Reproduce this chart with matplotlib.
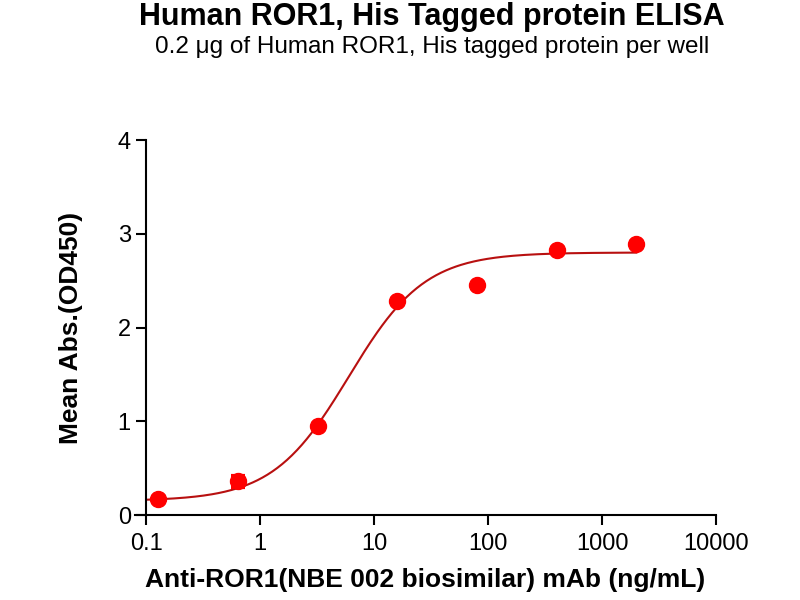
import numpy as np
import matplotlib
matplotlib.use('Agg')
import matplotlib.pyplot as plt

plt.rcParams['font.family'] = ['Liberation Sans', 'DejaVu Sans']

# measured points (ng/mL, OD450)
conc = [0.128, 0.64, 3.2, 16, 80, 400, 2000]
od450 = [0.17, 0.36, 0.95, 2.28, 2.45, 2.83, 2.89]
od_err = [0, 0.06, 0, 0, 0, 0, 0]

# 4PL fit parameters
bottom = 0.15
top = 2.8
ec50 = 6.0
hill = 1.3

def four_pl(x):
    return bottom + (top - bottom) / (1 + (ec50 / x) ** hill)

fig = plt.figure(figsize=(8, 6), dpi=100)
ax = fig.add_axes([135 / 800, 85 / 600, (716 - 135) / 800, 375 / 600])

xfit = np.logspace(-1, np.log10(2000), 300)
ax.plot(xfit, four_pl(xfit), color='#B81010', lw=1.5, zorder=2)

ax.errorbar(conc, od450, yerr=od_err, fmt='o', color='#FF0000', ms=11.5,
            capsize=5, capthick=3, elinewidth=2, zorder=3)

ax.set_xscale('log')
ax.set_xlim(0.08, 10000)
ax.set_ylim(0, 4)
ax.set_xticks([0.1, 1, 10, 100, 1000, 10000])
ax.set_xticklabels(['0.1', '1', '10', '100', '1000', '10000'])
ax.xaxis.set_minor_locator(matplotlib.ticker.NullLocator())
ax.set_yticks([0, 1, 2, 3, 4])

ax.spines['top'].set_visible(False)
ax.spines['right'].set_visible(False)
ax.spines['left'].set_position(('data', 0.1))
for s in ['left', 'bottom']:
    ax.spines[s].set_linewidth(1.5)
ax.tick_params(axis='both', width=1.5, length=7, labelsize=17, direction='out')
ax.tick_params(axis='x', pad=6)
ax.tick_params(axis='y', pad=4)

ax.set_xlabel('Anti-ROR1(NBE 002 biosimilar) mAb (ng/mL)', fontsize=19,
              fontweight='bold', labelpad=9)
ax.set_ylabel('Mean Abs.(OD450)', fontsize=19, fontweight='bold', labelpad=25)

fig.text(0.54, 0.972, 'Human ROR1, His Tagged protein ELISA', ha='center',
         va='center', fontsize=22, fontweight='bold')
fig.text(0.54, 0.922, '0.2 \u03bcg of Human ROR1, His tagged protein per well',
         ha='center', va='center', fontsize=17.5)

fig.savefig('out.png', dpi=100)
